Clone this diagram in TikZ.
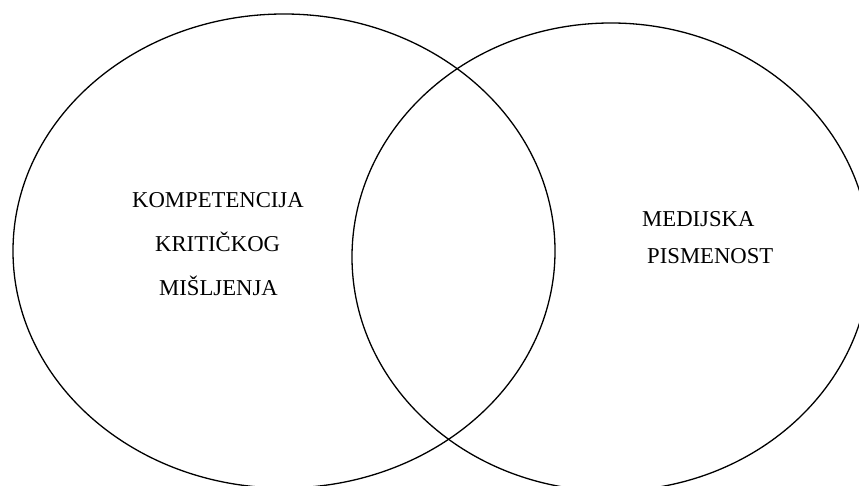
\documentclass[tikz,border=0pt]{standalone}
\usepackage{fontspec}
\setmainfont{Liberation Serif}
\usetikzlibrary{shapes.geometric, positioning}

\begin{document}
\begin{tikzpicture}[
    x=1pt, y=-1pt,
    every node/.style={font=\fontsize{22.7}{25}\selectfont},
    set/.style={ellipse, draw, line width=1.3pt, inner sep=0pt},
    lbl/.style={anchor=base west, inner sep=0pt},
]
    \useasboundingbox (0,0) rectangle (859,486);

    % skupovi
    \node[set, minimum width=542pt, minimum height=474pt] (kriticko) at (284,251) {};
    \node[set, minimum width=518pt, minimum height=468pt] (medijska) at (611,257) {};

    % lijevi skup
    \node[lbl] (k1) at (132,208) {KOMPETENCIJA};
    \node[lbl] (k2) at (155,252) {KRITIČKOG};
    \node[lbl] (k3) at (159,295) {MIŠLJENJA};

    % desni skup
    \node[lbl] (m1) at (642,227) {MEDIJSKA};
    \node[lbl] (m2) at (647,264) {PISMENOST};

\end{tikzpicture}
\end{document}
